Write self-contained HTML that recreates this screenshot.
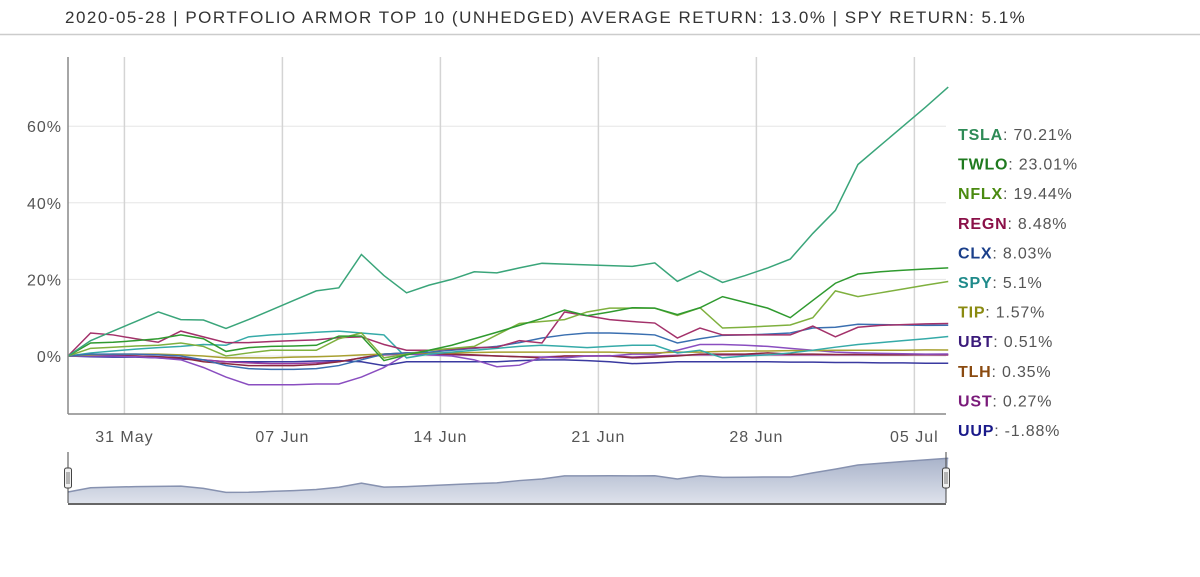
<!DOCTYPE html>
<html><head><meta charset="utf-8"><style>
body{margin:0;width:1200px;height:572px;background:#fff;overflow:hidden;font-family:"Liberation Sans",sans-serif}
</style></head><body>
<svg id="chart" width="1200" height="572" xmlns="http://www.w3.org/2000/svg">
<text x="65" y="23" font-size="17" letter-spacing="1.5" fill="#333">2020-05-28 | PORTFOLIO ARMOR TOP 10 (UNHEDGED) AVERAGE RETURN: 13.0% | SPY RETURN: 5.1%</text>
<line x1="0" y1="34.5" x2="1200" y2="34.5" stroke="#ccc" stroke-width="1.5"/>
<g id="grid"></g><g id="series"></g><g id="axes"></g><g id="legend"></g><g id="nav"></g>
</svg>
<script>
const dates=["May 28","May 29","May 30","May 31","Jun 1","Jun 2","Jun 3","Jun 4","Jun 5","Jun 6","Jun 7","Jun 8","Jun 9","Jun 10","Jun 11","Jun 12","Jun 13","Jun 14","Jun 15","Jun 16","Jun 17","Jun 18","Jun 19","Jun 20","Jun 21","Jun 22","Jun 23","Jun 24","Jun 25","Jun 26","Jun 27","Jun 28","Jun 29","Jun 30","Jul 1","Jul 2","Jul 3","Jul 4","Jul 5","Jul 6"];
const tsla=[0,4,6.5,9,11.5,9.5,9.4,7.2,9.5,12,14.5,17,17.8,26.5,21,16.5,18.5,20,22,21.7,23,24.2,24,23.8,23.6,23.4,24.3,19.5,22.2,19.2,21,23,25.3,32,38,50,55,60,65,70.21];
const twlo=[0,3.4,3.6,4,4.5,5.5,4.5,1.2,2.2,2.5,2.6,2.8,5.2,5.2,-1.2,0.3,1.5,2.8,4.5,6.2,8,9.8,12,10.5,11.5,12.6,12.5,10.8,12.6,15.5,14,12.5,10,14.5,19,21.4,22,22.4,22.7,23.01];
const nflx=[0,2,2.3,2.6,2.8,3.4,2.5,0,0.8,1.5,1.5,1.5,4.5,6,-0.5,0.5,1.5,2,2.5,5.5,8.5,9,9.5,11.5,12.5,12.5,12.5,10.6,12.6,7.3,7.5,7.8,8.1,10,17,15.5,16.5,17.5,18.5,19.44];
const regn=[0,6,5.5,4.5,3.6,6.5,5,3.5,3.5,3.8,4,4.2,4.8,5,3,1.5,1.5,1.8,2.2,2.3,4,3.4,11.5,10.5,9.5,9,8.6,4.7,7.3,5.5,5.5,5.5,5.5,7.8,5,7.5,8,8.2,8.4,8.48];
const clx=[0,0.5,0.5,0.5,0.3,0,-1,-2.5,-3.3,-3.5,-3.5,-3.3,-2.5,-1,0.5,0.8,1,1.5,2,2.5,3.5,4.7,5.5,6,6,5.8,5.5,3.4,4.5,5.4,5.5,5.7,6,7.3,7.5,8.3,8.2,8.1,8,8.03];
const spy=[0,0.8,1.3,1.8,2.2,2.5,3,2.8,5,5.5,5.8,6.2,6.5,6,5.5,-0.5,0.5,1,1.5,2,2.5,2.8,2.5,2.2,2.5,2.8,2.8,0.8,1.5,-0.5,0,0.3,0.8,1.5,2.3,3,3.5,4,4.5,5.1];
const tip=[0,0.3,0.5,0.5,0.5,0.3,0,-0.5,-0.5,-0.5,-0.3,-0.2,0,0.3,0.5,0.7,0.8,0.8,0.9,1,1,1,1,1,1,0.8,0.8,1,1,1.2,1.3,1.3,1.4,1.4,1.5,1.5,1.5,1.5,1.6,1.57];
const ubt=[0,0,0,-0.2,-0.5,-1,-3,-5.5,-7.5,-7.5,-7.5,-7.3,-7.3,-5.5,-3,0.5,0.3,0,-1,-2.8,-2.4,-0.3,-0.5,0,0,0.5,0.5,1.5,3,3,2.8,2.5,2,1.5,1,0.8,0.7,0.6,0.5,0.51];
const tlh=[0,0.2,0.2,0,-0.2,-0.5,-1.5,-2,-2.5,-2.5,-2.5,-2.2,-1.5,-0.5,0.5,0.8,0.5,0.5,0.3,0,-0.2,-0.5,0,0,0,-0.5,-0.3,0,0.5,0.5,0.5,0.8,0.5,0.5,0.4,0.4,0.3,0.3,0.35,0.35];
const ust=[0,0.1,0.1,0,-0.2,-0.5,-1,-1.5,-1.8,-2,-2,-1.8,-1.5,-0.5,0.3,0.5,0.3,0.3,0.2,0,-0.2,-0.3,0,0,0.1,-0.3,0,0.2,0.3,0.3,0.3,0.3,0.3,0.3,0.3,0.3,0.3,0.3,0.3,0.27];
const uup=[0,-0.2,-0.3,-0.3,-0.5,-0.8,-1,-1.5,-1.5,-1.5,-1.5,-1.3,-1.2,-1.5,-2.5,-1.5,-1.5,-1.5,-1.5,-1.5,-1.2,-1,-1,-1.2,-1.5,-2,-1.8,-1.5,-1.5,-1.5,-1.5,-1.5,-1.6,-1.6,-1.7,-1.7,-1.8,-1.8,-1.9,-1.88];
const yTicks=[0,20,40,60];
const xTickLabels=["31 May","07 Jun","14 Jun","21 Jun","28 Jun","05 Jul"];
const xTickPos=[2.5,9.5,16.5,23.5,30.5,37.5];
const series=[["TSLA",tsla,"#3aa57a","#2e8b57"],["TWLO",twlo,"#2f9a2f","#1f7a1f"],["NFLX",nflx,"#7fb03e","#4a8a10"],["REGN",regn,"#a3316a","#8a1048"],["CLX",clx,"#3a6fb0","#1a3f8a"],["SPY",spy,"#35aaa8","#1f8a8a"],["TIP",tip,"#a8a030","#8a8a10"],["UBT",ubt,"#8a4ec0","#3a1a7a"],["TLH",tlh,"#8a2a40","#8a4a10"],["UST",ust,"#9a3aa0","#7a1a7a"],["UUP",uup,"#3a3aa0","#1a1a8a"]];
const NS="http://www.w3.org/2000/svg";
const X0=68,X1=946,YT=57,YB=414;
const xs=i=>X0+i*22.57;
const ys=v=>356-3.83*v;
function mk(t,a,p){const e=document.createElementNS(NS,t);for(const k in a)e.setAttribute(k,a[k]);p.appendChild(e);return e;}
const grid=document.getElementById('grid'),axes=document.getElementById('axes'),sg=document.getElementById('series'),lg=document.getElementById('legend'),nav=document.getElementById('nav');
yTicks.forEach(t=>{const l=mk('line',{x1:X0,x2:X1,y1:ys(t),y2:ys(t),stroke:'#e6e6e6'},grid);


const tx=mk('text',{x:62,y:ys(t)+6,'font-size':16,'letter-spacing':1,fill:'#555','text-anchor':'end'},axes);tx.textContent=t+'%';

});
xTickPos.forEach((p,k)=>{const l=mk('line',{x1:xs(p),x2:xs(p),y1:YT,y2:YB,stroke:'#d4d4d4','stroke-width':1.5},grid);


const tx=mk('text',{x:xs(p),y:442,'font-size':16,'letter-spacing':1,fill:'#555','text-anchor':'middle'},axes);tx.textContent=xTickLabels[k];

});
const ya=mk('line',{x1:X0,x2:X0,y1:YT,y2:YB,stroke:'#888','stroke-width':1.5},axes);


const xa=mk('line',{x1:X0,x2:X1,y1:YB,y2:YB,stroke:'#888','stroke-width':1.5},axes);


series.slice().reverse().forEach(s=>{const pl=mk('polyline',{points:s[1].map((v,i)=>xs(i)+','+ys(v)).join(' '),fill:'none',stroke:s[2],'stroke-width':1.5},sg);

});
series.forEach((s,k)=>{const y=140+k*29.6;const t=mk('text',{x:958,y:y,'font-size':16,'letter-spacing':0.8,fill:'#555'},lg);


const b=mk('tspan',{fill:s[3],'font-weight':'bold'},t);b.textContent=s[0];
const r=mk('tspan',{},t);r.textContent=': '+s[1][s[1].length-1]+'%';});
const port=[tsla,twlo,nflx,regn,clx,tip,ubt,tlh,ust,uup];
const avg=dates.map((d,i)=>port.reduce((a,s)=>a+s[i],0)/port.length);
const ny=v=>492-2.6*v;
const pts=avg.map((v,i)=>xs(i)+','+ny(v)).join(' ');
const defs=mk('defs',{},nav);const g=mk('linearGradient',{id:'ng',x1:0,y1:0,x2:0,y2:1},defs);
mk('stop',{offset:0,'stop-color':'#a9b3ca'},g);mk('stop',{offset:1,'stop-color':'#dfe3ec'},g);
const area=mk('polygon',{points:X0+',504 '+pts+' '+X1+',504',fill:'url(#ng)'},nav);


const nl=mk('polyline',{points:pts,fill:'none',stroke:'#8792b0','stroke-width':1.5},nav);


const nb=mk('line',{x1:X0,x2:X1,y1:504,y2:504,stroke:'#666','stroke-width':2},nav);


[X0,X1].forEach((x,k)=>{const h=mk('g',{},nav);


mk('line',{x1:x,x2:x,y1:452,y2:503,stroke:'#444','stroke-width':1},h);
mk('rect',{x:x-3.5,y:468,width:7,height:20,rx:2,fill:'#f0f0f0',stroke:'#444','stroke-width':1},h);
mk('line',{x1:x-1,x2:x-1,y1:472,y2:484,stroke:'#777'},h);mk('line',{x1:x+1,x2:x+1,y1:472,y2:484,stroke:'#777'},h);});
</script>
</body></html>
